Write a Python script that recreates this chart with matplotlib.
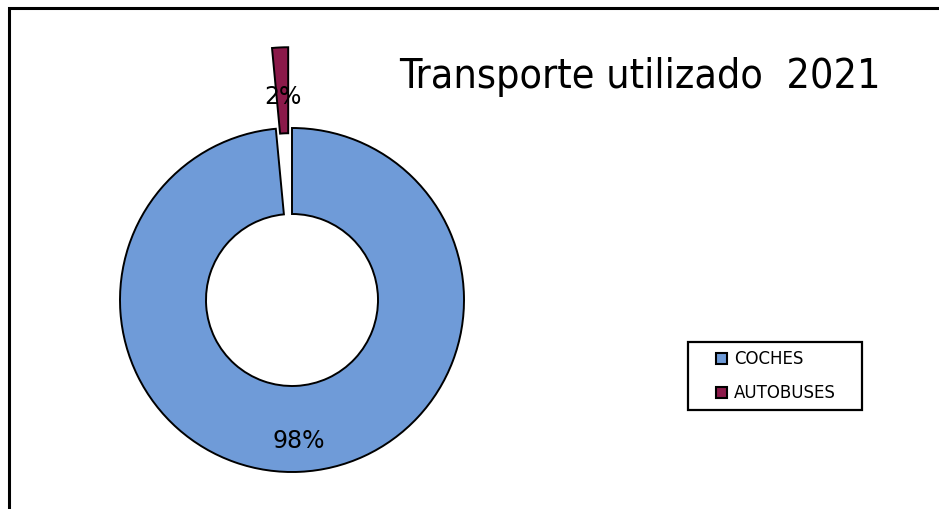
import matplotlib
matplotlib.use('Agg')
import numpy as np
import matplotlib.pyplot as plt
from matplotlib.patches import Rectangle, Patch

# data (labels rounded to 98% / 2%)
categories = ['COCHES', 'AUTOBUSES']
values = [98.5, 1.5]
colors = ['#6f9bd8', '#8b1a4a']
title = 'Transporte utilizado  2021'

W, H = 939, 509
fig = plt.figure(figsize=(W / 100, H / 100), dpi=100)
fig.patch.set_facecolor('white')

# pie centre at pixel (292, 300) from top-left, radius 172 px
cx, cy, r = 292, 300, 172
ax = fig.add_axes([0, 0, 1, 1])

explode = [0, 0.47]
wedges, texts, autotexts = ax.pie(
    values, colors=colors, startangle=90, counterclock=False,
    explode=explode, autopct='%1.0f%%', pctdistance=0.82,
    wedgeprops=dict(width=0.5, edgecolor='black', linewidth=1.4),
    textprops=dict(fontsize=17, color='black'), frame=True)
ax.set_xlim(-cx / r, (W - cx) / r)
ax.set_ylim(-(H - cy) / r, cy / r)
ax.set_aspect('auto')
ax.axis('off')

# small slice label sits a bit lower inside the exploded wedge
w = wedges[1]
mid = np.deg2rad((w.theta1 + w.theta2) / 2)
d = explode[1] + 0.71
autotexts[1].set_position((d * np.cos(mid), d * np.sin(mid)))

# title
fig.text(640 / W, 1 - 77 / H, title, ha='center', va='center',
         fontsize=29.5, family='DejaVu Sans', fontstretch='condensed')

# outer chart frame
fig.patches.append(Rectangle((9 / W, -0.05), 1.2, 1 - 8 / H + 0.05,
                             transform=fig.transFigure, fill=False,
                             edgecolor='black', linewidth=2.2))

# legend
handles = [Patch(facecolor=c, edgecolor='black', linewidth=1.5) for c in colors]
fig.legend(handles, categories, loc='center', bbox_to_anchor=(776 / W, 1 - 376 / H),
           frameon=False, fontsize=12, handlelength=0.65, handleheight=0.65,
           handletextpad=0.45, labelspacing=0.95)
fig.patches.append(Rectangle((688 / W, 1 - 410 / H), 174 / W, 68 / H,
                             transform=fig.transFigure, fill=False,
                             edgecolor='black', linewidth=1.6))

plt.savefig('out.png', dpi=100, facecolor='white')
